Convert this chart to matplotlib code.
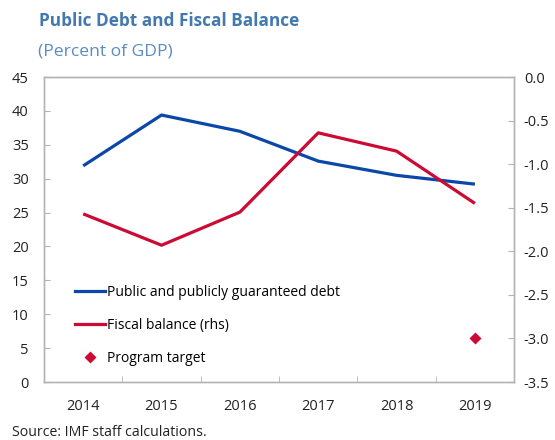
import numpy as np
import matplotlib.pyplot as plt
from matplotlib.lines import Line2D

plt.rcParams['font.family'] = ['Open Sans', 'DejaVu Sans']

# data
years = ['2014', '2015', '2016', '2017', '2018', '2019']
debt = [31.9, 39.4, 37.0, 32.6, 30.5, 29.2]           # percent of GDP, lhs
fiscal = [-1.57, -1.93, -1.55, -0.64, -0.85, -1.45]   # percent of GDP, rhs
target_year = 5
target = [-3.0]

blue = '#0a47a9'
red = '#cc0a33'
grey = '#b4b4b4'
title_c = '#4379ae'
sub_c = '#5a8cc2'

fig = plt.figure(figsize=(5.55, 4.4), dpi=100)
ax = fig.add_axes([0.0793, 0.1318, 0.847, 0.693])
ax2 = ax.twinx()

x = np.arange(len(years))
ax.plot(x, debt, color=blue, lw=2.3, solid_capstyle='butt')
ax2.plot(x, fiscal, color=red, lw=2.3, solid_capstyle='butt')
ax2.plot([target_year], target, 'D', color=red, ms=6.5, mec='none')

ax.set_xlim(-0.5, len(years) - 0.5)
ax.set_ylim(0, 45)
ax2.set_ylim(-3.5, 0)
ax.set_yticks(np.arange(0, 46, 5))
ax2.set_yticks(np.arange(-3.5, 0.01, 0.5))
ax2.set_yticklabels([f'{v:.1f}' for v in np.arange(-3.5, 0.01, 0.5)])

ax.set_xticks(x)
ax.set_xticklabels(years)
ax.set_xticks(x[:-1] + 0.5, minor=True)

for a in (ax, ax2):
    for s in a.spines.values():
        s.set_color(grey)
        s.set_linewidth(1.0)
ax.tick_params(axis='x', which='major', length=0, pad=12, labelsize=10.5, colors='#222222')
ax.tick_params(axis='x', which='minor', direction='in', length=4.5, color=grey)
ax.tick_params(axis='y', direction='in', length=4.5, color=grey, pad=11,
               labelsize=10.5, labelcolor='#222222')
ax2.tick_params(axis='y', direction='in', length=4.5, color=grey, pad=7,
                labelsize=10.5, labelcolor='#222222')

handles = [
    Line2D([], [], color=blue, lw=2.3),
    Line2D([], [], color=red, lw=2.3),
    Line2D([], [], color=red, marker='D', ls='none', ms=6, mec='none'),
]
labels = ['Public and publicly guaranteed debt', 'Fiscal balance (rhs)', 'Program target']
ax2.legend(handles, labels, loc='lower left', bbox_to_anchor=(0.045, 0.02),
           frameon=False, fontsize=10, handlelength=2.2, handletextpad=0.1,
           labelspacing=1.3, borderaxespad=0.3)

fig.text(0.070, 0.953, 'Public Debt and Fiscal Balance', fontsize=12.4,
         fontweight='bold', color=title_c, va='center')
fig.text(0.068, 0.884, '(Percent of GDP)', fontsize=12.6, color=sub_c,
         va='center')
fig.text(0.022, 0.016, 'Source: IMF staff calculations.', fontsize=10.2,
         color='#222222', va='center')

fig.savefig('out.png', dpi=100)
